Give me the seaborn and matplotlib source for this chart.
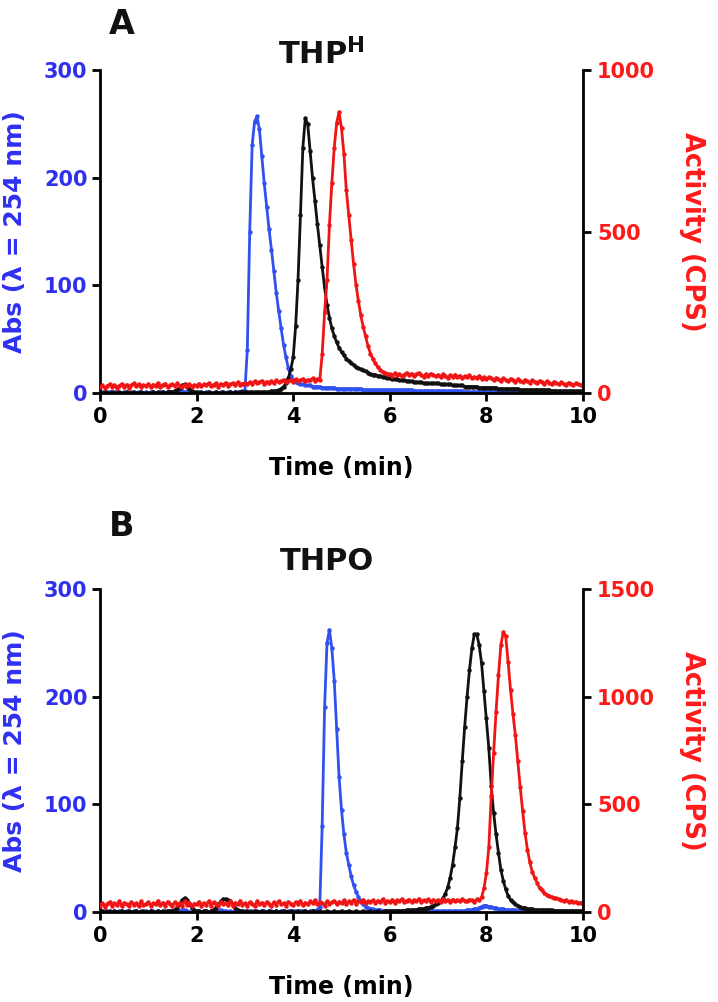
import numpy as np
import matplotlib
matplotlib.use("Agg")
import matplotlib.pyplot as plt
import seaborn as sns

# ---------------- data ----------------
# sampling grid of the chromatograms (min)
T_START, T_STOP, T_STEP = 0.0, 10.0, 0.05

# Panel A (THP^H)
blue_A = [1,1,0,1,1,0,1,1,0,0,1,1,0,1,0,0,1,1,0,1,
          0,1,1,0,0,1,1,0,1,1,0,1,1,2,2,1,1,0,1,0,
          0,1,0,0,1,1,0,0,1,0,1,0,0,1,1,0,1,1,1,2,
          2,40,150,230,252,257,245,220,195,173,152,133,113,93,76,60,45,33,23,16,
          12,10,9,8,8,7,7,7,6,6,6,6,5,5,5,5,5,5,4,4,
          4,4,4,4,4,4,4,4,4,3,3,3,3,3,3,3,3,3,3,3,
          3,3,3,3,3,3,3,3,3,3,2,2,2,2,2,2,2,2,2,2,
          2,2,2,2,2,2,2,2,2,2,2,1,1,1,1,1,1,1,1,1,
          1,1,1,1,1,1,1,1,1,1,1,1,1,1,1,1,1,1,1,1,
          1,1,1,1,1,1,0,0,0,0,0,0,0,0,0,0,0,0,0,0,
          0]
black_A = [0,0,1,0,0,1,0,0,1,0,0,1,0,0,1,0,0,1,0,0,
           0,0,1,0,1,0,1,0,1,1,1,2,3,5,7,8,6,4,2,1,
           1,0,1,0,0,1,0,0,1,0,0,1,0,0,1,0,1,0,1,1,
           1,1,1,1,1,1,1,1,1,1,1,2,2,2,3,4,6,9,14,22,
           33,62,105,165,228,255,250,225,200,178,157,137,117,98,82,70,60,53,47,42,
           38,35,32,30,28,26,24,23,22,21,20,19,18,17,17,16,16,15,15,14,
           14,13,13,13,12,12,12,11,11,11,10,10,10,10,9,9,9,9,9,9,
           9,8,8,8,8,8,7,7,7,7,7,6,6,6,6,6,6,5,5,5,
           5,5,5,5,5,4,4,4,4,4,4,4,4,4,3,3,3,3,3,3,
           3,3,3,3,3,3,3,2,2,2,2,2,2,2,2,2,2,2,2,2,
           2]
red_A = [18,24,15,22,27,19,25,16,23,28,20,26,17,24,30,21,27,18,25,22,
         28,19,26,23,31,20,25,29,18,24,27,21,30,23,19,26,22,28,20,25,
         23,29,21,27,24,31,22,26,30,20,28,25,32,23,27,30,24,33,26,29,
         31,27,34,29,36,30,33,38,28,35,32,37,30,39,34,36,41,33,38,40,
         35,42,37,40,44,36,41,39,45,38,43,40,120,250,350,520,650,760,836,870,
         820,740,628,550,474,400,335,285,240,204,175,145,122,105,92,80,72,66,63,60,
         58,54,61,55,59,52,57,63,55,60,53,58,62,56,51,59,54,60,57,52,
         56,50,58,53,47,55,51,57,49,54,46,52,48,55,45,50,47,53,44,49,
         42,48,45,39,47,43,38,45,41,36,44,40,35,42,38,33,41,37,32,39,
         35,31,38,34,29,36,32,28,35,30,27,33,29,26,32,28,25,30,27,24,
         28]

# Panel B (THPO)
blue_B = [1,0,1,1,0,0,1,0,1,1,0,1,0,0,1,1,0,1,0,1,
          0,1,1,0,1,0,0,1,1,0,1,0,1,1,2,2,1,0,0,1,
          0,1,0,1,1,0,1,0,1,1,2,1,1,0,1,0,1,1,0,1,
          1,0,1,1,0,1,0,1,1,0,1,1,0,1,0,1,1,0,1,1,
          1,1,0,1,1,1,0,1,1,1,2,5,80,190,250,262,245,215,170,125,
          95,72,55,44,33,25,19,14,10,7,5,4,3,3,2,2,2,1,1,1,
          1,1,1,1,1,1,1,1,1,1,1,1,1,1,1,1,1,1,1,1,
          1,1,1,1,1,1,1,1,1,1,1,1,2,2,2,3,3,4,5,6,
          6,5,5,4,4,3,3,3,2,2,2,2,2,1,1,1,1,1,1,1,
          1,1,1,1,1,1,1,1,1,1,1,1,1,1,1,1,1,1,1,1,
          1]
black_B = [0,1,0,0,1,0,1,0,0,1,0,0,1,0,0,1,0,0,1,0,
           0,1,0,0,1,0,1,0,1,1,1,2,4,7,11,13,11,7,4,2,
           1,1,0,1,1,0,1,2,4,7,10,12,12,11,10,7,4,2,1,1,
           0,1,0,0,1,0,0,1,0,0,1,0,0,1,0,0,1,0,0,1,
           0,0,1,0,0,1,0,0,1,0,0,1,0,0,1,0,0,1,0,0,
           1,0,0,1,0,0,1,0,0,1,0,0,1,0,0,1,0,0,1,1,
           1,1,1,1,1,1,1,2,2,2,2,2,3,3,3,4,4,5,6,7,
           8,10,13,17,23,32,44,60,78,106,140,172,200,225,245,258,258,248,231,205,
           180,152,117,92,72,55,39,29,21,15,11,9,7,6,5,4,4,3,3,3,
           2,2,2,2,2,2,2,2,1,1,1,1,1,1,1,1,1,1,1,1,
           1]
red_B = [30,42,25,38,47,28,40,33,50,26,44,36,29,46,34,41,27,49,32,38,
         45,29,40,35,52,31,43,27,48,37,30,46,34,41,26,50,33,44,29,39,
         36,48,28,42,33,51,30,45,38,27,47,35,40,31,49,29,43,36,52,34,
         41,30,46,37,28,50,35,43,32,47,38,29,45,34,51,36,40,30,48,39,
         33,46,38,52,31,44,36,49,40,55,35,47,42,30,50,38,45,53,36,48,
         41,54,37,49,44,56,39,51,45,58,42,50,47,55,40,53,46,59,44,51,
         48,57,43,55,50,60,46,53,58,45,56,49,61,47,54,52,59,46,57,50,
         55,48,60,52,57,47,58,51,56,49,61,53,50,58,54,47,59,55,68,110,
         180,300,540,740,930,1100,1240,1300,1280,1160,1030,920,820,700,580,470,367,290,230,185,
         160,135,112,100,88,80,74,70,66,63,60,56,52,55,48,51,45,47,42,44,
         40]

x_ticks = [0, 2, 4, 6, 8, 10]
abs_ticks = [0, 100, 200, 300]
act_ticks_A = [0, 500, 1000]
act_ticks_B = [0, 500, 1000, 1500]
titles = ["THP$^{\\mathbf{H}}$", "THPO"]
panel_letters = ["A", "B"]

# ---------------- style ----------------
sns.set_style("ticks")
plt.rcParams['font.family'] = ['DejaVu Sans']
plt.rcParams['font.weight'] = 'bold'
plt.rcParams['mathtext.fontset'] = 'dejavusans'
plt.rcParams['mathtext.default'] = 'bf'

BLUE_LINE = '#3050f0'
BLUE_TXT = '#2f2ff0'
RED_LINE = '#f01414'
RED_TXT = '#ff1a1a'
BLACK = '#111111'

W, H = 718, 1002
fig = plt.figure(figsize=(W / 100, H / 100), dpi=100)

t = np.round(np.arange(T_START, T_STOP + T_STEP / 2, T_STEP), 3)

def px_axes(x0, y_top, x1, y_bot):
    return fig.add_axes([x0 / W, 1 - y_bot / H, (x1 - x0) / W, (y_bot - y_top) / H])

panels = [
    dict(box=(100, 70, 583, 393), blue=blue_A, black=black_A, red=red_A,
         rmax=1000, rticks=act_ticks_A, title_xy=(278, 54), letter_xy=(122, 25)),
    dict(box=(100, 589, 583, 912), blue=blue_B, black=black_B, red=red_B,
         rmax=1500, rticks=act_ticks_B, title_xy=(280, 561), letter_xy=(122, 526)),
]

line_kw = dict(marker='o', markersize=3.2, markeredgewidth=0, linewidth=2.0)

for i, p in enumerate(panels):
    ax = px_axes(*p['box'])
    sns.lineplot(x=t, y=p['blue'], ax=ax, color=BLUE_LINE, **line_kw)
    sns.lineplot(x=t, y=p['black'], ax=ax, color=BLACK, **line_kw)
    ax.set_xlim(0, 10)
    ax.set_ylim(0, 300)
    ax.set_xticks(x_ticks)
    ax.set_yticks(abs_ticks)

    ax2 = ax.twinx()
    sns.lineplot(x=t, y=p['red'], ax=ax2, color=RED_LINE, **line_kw)
    ax2.set_ylim(0, p['rmax'])
    ax2.set_yticks(p['rticks'])

    for a in (ax, ax2):
        a.spines['top'].set_visible(False)
        for s in a.spines.values():
            s.set_linewidth(2.0)
            s.set_color('black')
    ax.spines['right'].set_visible(False)
    ax2.spines['left'].set_visible(False)
    ax2.spines['bottom'].set_visible(False)

    ax.tick_params(axis='x', length=6, width=2, pad=4, labelsize=15, colors='black')
    ax.tick_params(axis='y', length=6, width=2, pad=3, labelsize=15,
                   color='black', labelcolor=BLUE_TXT)
    ax2.tick_params(axis='y', length=6, width=2, pad=4, labelsize=15,
                    color='black', labelcolor=RED_TXT)
    for lab in ax.get_xticklabels() + ax.get_yticklabels() + ax2.get_yticklabels():
        lab.set_fontweight('bold')

    ax.set_xlabel("Time (min)", fontsize=17, fontweight='bold', color='black')
    ax.xaxis.set_label_coords(0.5, -0.195)
    ax.set_ylabel("Abs (\u03bb = 254 nm)", fontsize=18, fontweight='bold', color=BLUE_TXT)
    ax.yaxis.label.set_va('center')
    ax.yaxis.set_label_coords(-0.176, 0.5)
    ax2.set_ylabel("Activity (CPS)", fontsize=18.5, fontweight='bold', color=RED_TXT,
                   rotation=270)
    ax2.yaxis.label.set_va('center')
    ax2.yaxis.set_label_coords(1.226, 0.5)

    tx, ty = p['title_xy']
    fig.text(tx / W, 1 - ty / H, titles[i], fontsize=22, fontweight='bold',
             ha='left', va='center', color=BLACK)
    lx, ly = p['letter_xy']
    fig.text(lx / W, 1 - ly / H, panel_letters[i], fontsize=24, fontweight='bold',
             ha='center', va='center', color=BLACK)

fig.savefig("out.png", dpi=100)
